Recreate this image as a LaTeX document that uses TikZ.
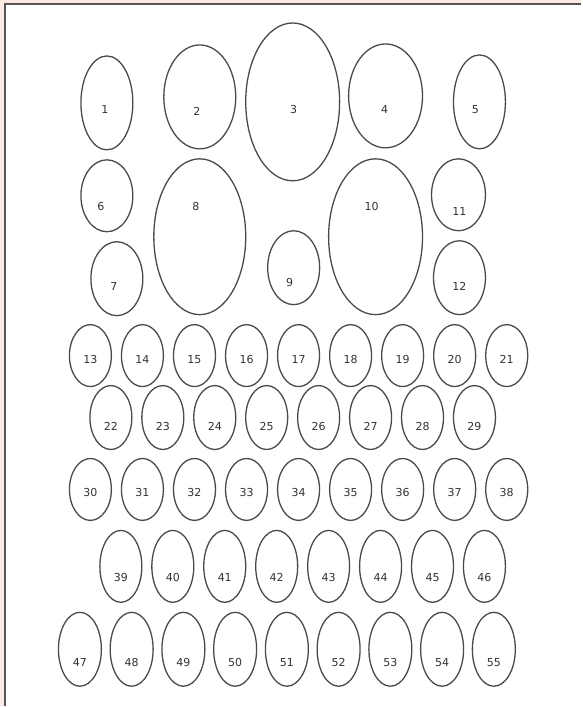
\documentclass[tikz,border=0pt]{standalone}
\usepackage{fontspec}
\setsansfont{DejaVu Sans}
\usetikzlibrary{shapes.geometric}
\definecolor{pinkbg}{HTML}{FBE9E3}
\definecolor{ink}{HTML}{4A4A4A}
\definecolor{txt}{HTML}{333333}
\definecolor{frame}{HTML}{555555}
\tikzset{
  egg/.style={draw=ink, line width=1.3pt, ellipse, inner sep=0pt},
  lab/.style={font=\sffamily\fontsize{11}{11}\selectfont, text=txt, inner sep=0pt}
}
\begin{document}
\begin{tikzpicture}[x=1pt,y=-1pt]
\fill[pinkbg] (0,0) rectangle (582,707);
\fill[white] (5,4) rectangle (582,707);
\draw[frame, line width=1.6pt] (5,707) -- (5,4) -- (582,4);
\useasboundingbox (0,0) rectangle (582,707);
% large ellipses
\foreach \n/\x/\y/\rx/\ry/\lx/\ly in {
  1/107/103/26/47/105/110,
  2/200/97/36/52/197/112,
  3/293/102/47/79/294/110,
  4/386/96/37/52/385/110,
  5/480/102/26/47/476/110,
  6/107/196/26/36/101/207,
  8/200/237/46/78/196/207,
  9/294/268/26/37/290/283,
  10/376/237/47/78/372/207,
  11/459/195/27/36/460/212,
  7/117/279/26/37/114/287,
  12/460/278/26/37/460/287}{
  \node[egg, minimum width={2*\rx*1pt}, minimum height={2*\ry*1pt}] (e\n) at (\x,\y) {};
  \node[lab] (t\n) at (\lx,\ly) {\n};
}
% row 13-21
\foreach \i in {0,...,8}{
  \pgfmathtruncatemacro\n{13+\i}
  \node[egg, minimum width=42pt, minimum height=62pt] (e\n) at ({90.5+52.1*\i},356) {};
  \node[lab] (t\n) at ({90.5+52.1*\i},360) {\n};
}
% row 22-29
\foreach \i in {0,...,7}{
  \pgfmathtruncatemacro\n{22+\i}
  \node[egg, minimum width=42pt, minimum height=64pt] (e\n) at ({111+52*\i},418) {};
  \node[lab] (t\n) at ({111+52*\i},427) {\n};
}
% row 30-38
\foreach \i in {0,...,8}{
  \pgfmathtruncatemacro\n{30+\i}
  \node[egg, minimum width=42pt, minimum height=62pt] (e\n) at ({90.5+52.1*\i},490) {};
  \node[lab] (t\n) at ({90.5+52.1*\i},493) {\n};
}
% row 39-46
\foreach \i in {0,...,7}{
  \pgfmathtruncatemacro\n{39+\i}
  \node[egg, minimum width=42pt, minimum height=72pt] (e\n) at ({121+52*\i},567) {};
  \node[lab] (t\n) at ({121+52*\i},578) {\n};
}
% row 47-55
\foreach \i in {0,...,8}{
  \pgfmathtruncatemacro\n{47+\i}
  \node[egg, minimum width=43pt, minimum height=74pt] (e\n) at ({80+51.8*\i},650) {};
  \node[lab] (t\n) at ({80+51.8*\i},663) {\n};
}
\end{tikzpicture}
\end{document}
